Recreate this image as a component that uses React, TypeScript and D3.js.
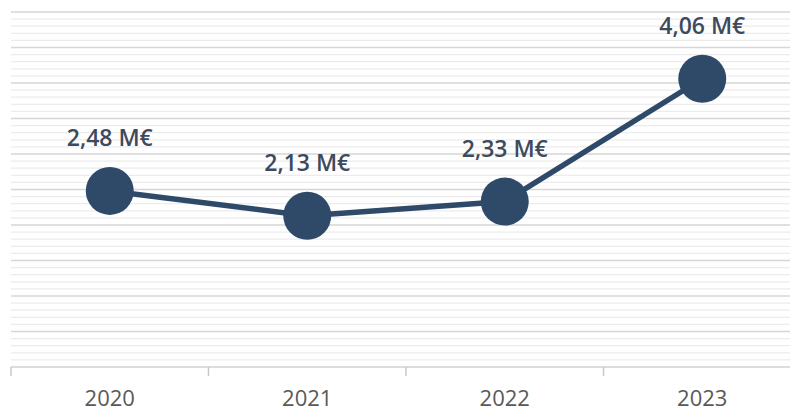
import React from "react";
import * as d3 from "d3";

const years = ["2020", "2021", "2022", "2023"];
const values = [2.48, 2.13, 2.33, 4.06];
const valueLabels = ["2,48 M€", "2,13 M€", "2,33 M€", "4,06 M€"];
const yMax = 5;
const majorStep = 0.5;
const minorStep = 0.1;

export default function App() {
  const W = 790;
  const H = 414;
  const left = 11;
  const bandW = 197.5;
  const top = 12;
  const bottom = 367;

  const x = d3
    .scaleBand<string>()
    .domain(years)
    .range([left, left + bandW * years.length])
    .paddingInner(0)
    .paddingOuter(0);
  const y = d3.scaleLinear().domain([0, yMax]).range([bottom, top]);

  const minorTicks = d3.range(0, yMax + 1e-9, minorStep).filter((v) => Math.abs(v / majorStep - Math.round(v / majorStep)) > 1e-6);
  const majorTicks = d3.range(majorStep, yMax + 1e-9, majorStep);

  const cx = (i: number) => (x(years[i]) as number) + x.bandwidth() / 2;
  const line = d3
    .line<number>()
    .x((_, i) => cx(i))
    .y((d) => y(d));

  const tickXs = years.map((yr) => x(yr) as number).concat([left + bandW * years.length]);

  return (
    <svg
      width={W}
      height={H}
      style={{ position: "absolute", left: 0, top: 0, background: "#fff" }}
    >
      {minorTicks.map((v, i) => (
        <line key={"mi" + i} x1={left} x2={W} y1={y(v)} y2={y(v)} stroke="#ececec" strokeWidth={1.2} />
      ))}
      {majorTicks.map((v, i) => (
        <line key={"ma" + i} x1={left} x2={W} y1={y(v)} y2={y(v)} stroke="#d6d6d6" strokeWidth={1.6} />
      ))}
      <line x1={left} x2={W} y1={y(0)} y2={y(0)} stroke="#d0d0d0" strokeWidth={1.6} />
      {tickXs.map((tx, i) => (
        <line key={"t" + i} x1={tx} x2={tx} y1={y(0)} y2={y(0) + 9} stroke="#c8c8c8" strokeWidth={1.5} />
      ))}
      <path d={line(values) || ""} fill="none" stroke="#2f4a68" strokeWidth={5.5} strokeLinejoin="round" />
      {values.map((v, i) => (
        <circle key={"c" + i} cx={cx(i)} cy={y(v)} r={24} fill="#2f4a68" />
      ))}
      {values.map((v, i) => (
        <text
          key={"l" + i}
          x={cx(i)}
          y={y(v) - 45}
          textAnchor="middle"
          fontFamily="'Open Sans', sans-serif"
          fontWeight={600}
          fontSize={23}
          fill="#3e4a5c"
        >
          {valueLabels[i]}
        </text>
      ))}
      {years.map((yr, i) => (
        <text
          key={"y" + i}
          x={cx(i)}
          y={406}
          textAnchor="middle"
          fontFamily="'Open Sans', sans-serif"
          fontSize={22}
          fill="#595959"
        >
          {yr}
        </text>
      ))}
    </svg>
  );
}
